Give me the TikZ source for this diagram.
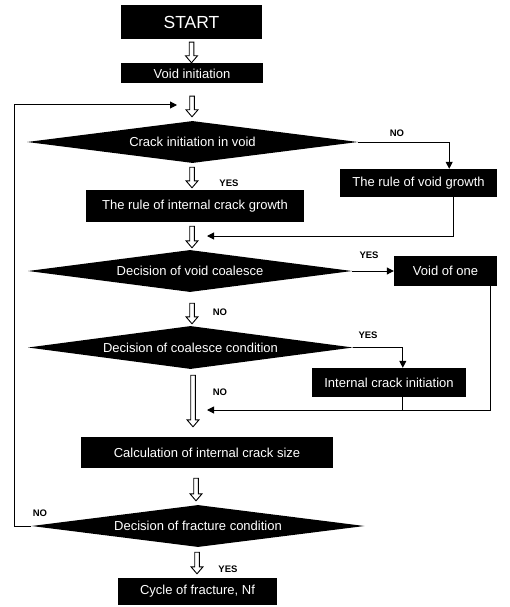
\documentclass[tikz,border=0pt]{standalone}
\usepackage{fontspec}
\setmainfont{Liberation Sans}
\usetikzlibrary{shapes.geometric,arrows.meta,calc}
\tikzset{
  box/.style={rectangle,fill=black,text=white,inner sep=0pt,font=\fontsize{13}{15}\selectfont},
  dia/.style={diamond,aspect=7.5,fill=black,text=white,inner sep=0pt,font=\fontsize{13}{15}\selectfont},
  lbl/.style={inner sep=0pt,font=\fontsize{9.5}{11}\selectfont\bfseries},
  conn/.style={line width=1pt},
  arr/.style={conn,-{Triangle[length=7pt,width=7pt]}},
  hollowstyle/.style={draw=black,line width=0.9pt,fill=white,line join=miter}
}
\newcommand{\hollowarr}[2]{%
  \path[hollowstyle] let \p1=#1, \p2=#2 in
    (\x1-2.3pt,\y1) -- (\x1+2.3pt,\y1) -- (\x1+2.3pt,\y2+7pt) -- (\x1+6pt,\y2+7pt)
    -- (\x1,\y2) -- (\x1-6pt,\y2+7pt) -- (\x1-2.3pt,\y2+7pt) -- cycle;}
\begin{document}
\begin{tikzpicture}[x=1pt,y=-1pt]
\useasboundingbox (0,0) rectangle (509,607);

% boxes
\node[box,minimum width=141pt,minimum height=34pt,font=\fontsize{17.5}{19}\selectfont] (start) at (191.5,22) {START};
\node[box,minimum width=142pt,minimum height=20pt] (void) at (192,73.5) {Void initiation};
\node[dia,minimum width=331pt,minimum height=42pt] (d1) at (192.5,142) {Crack initiation in void};
\node[box,minimum width=218pt,minimum height=32pt] (icg) at (195,206) {The rule of internal crack growth};
\node[box,minimum width=157pt,minimum height=28pt] (vg) at (418.5,183) {The rule of void growth};
\node[dia,minimum width=324pt,minimum height=42pt] (d2) at (190,271) {Decision of void coalesce};
\node[box,minimum width=103pt,minimum height=30pt] (vo) at (445.5,271) {Void of one};
\node[dia,minimum width=325pt,minimum height=43pt] (d3) at (190.5,347.5) {Decision of coalesce condition};
\node[box,minimum width=154pt,minimum height=29pt] (ici) at (389,382.5) {Internal crack initiation};
\node[box,minimum width=252pt,minimum height=31pt] (calc) at (207,452.5) {Calculation of internal crack size};
\node[dia,minimum width=333pt,minimum height=42pt] (d4) at (198,526) {Decision of fracture condition};
\node[box,minimum width=159pt,minimum height=27pt] (cyc) at (197.5,591.5) {Cycle of fracture, Nf};

% hollow arrows
\hollowarr{($(start.south)+(0,3)$)}{($(void.north)+(0,-0.5)$)}
\hollowarr{($(void.south)+(0,12.5)$)}{($(d1.north)+(0,-4)$)}
\hollowarr{($(d1.south)+(-0.5,4)$)}{($(icg.north)+(0,-2)$)}
\hollowarr{($(icg.south)+(-3,4)$)}{($(d2.north)+(0,-2)$)}
\hollowarr{($(d2.south)+(2,11)$)}{($(d3.north)+(0,-2)$)}
\hollowarr{($(d3.south)+(2.5,6)$)}{($(calc.north)+(0,-10)$)}
\hollowarr{($(calc.south)+(-11,10)$)}{($(d4.north)+(0,-4)$)}
\hollowarr{($(d4.south)+(-1,5)$)}{($(cyc.north)+(0,-4)$)}

% connectors
\coordinate (j0) at (177,105);
\coordinate (lp) at (14,105);
\coordinate (j1) at (207,236);
\coordinate (j2) at (207,410);
\draw[arr] (d1.east) -| ($(vg.north east)+(-48,0)$);
\draw[arr] ($(vg.south east)+(-44,0)$) |- (j1);
\draw[arr] (d2.east) -- (vo.west);
\draw[arr] ($(vo.south east)+(-7,0)$) |- (j2);
\draw[arr] (d3.east) -| ($(ici.north west)+(91,0)$);
\path ($(ici.south west)+(91,0)$) coordinate (k);
\draw[conn] (k) -- (k |- j2);
\draw[arr] (d4.west) -| (lp) -- (j0);

% labels
\node[lbl] (n1) at (397,133) {NO};
\node[lbl] (y1) at (229,183) {YES};
\node[lbl] (y2) at (369,255) {YES};
\node[lbl] (n2) at (220,312) {NO};
\node[lbl] (y3) at (368,335) {YES};
\node[lbl] (n3) at (220,392) {NO};
\node[lbl] (n4) at (40,513) {NO};
\node[lbl] (y4) at (228,569) {YES};
\end{tikzpicture}
\end{document}
